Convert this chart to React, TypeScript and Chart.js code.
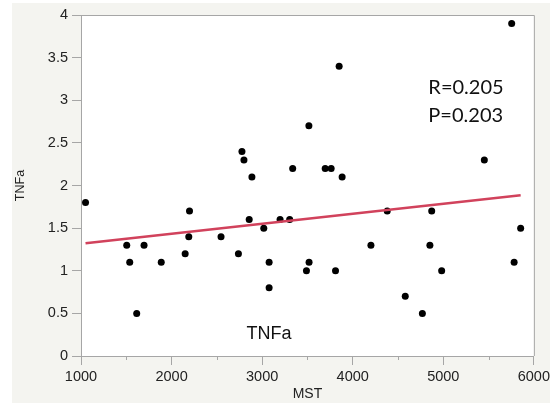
import React, { useEffect, useRef } from "react";
import { Chart, registerables } from "chart.js";

Chart.register(...registerables);

const mstValues = [
  1050, 1505, 1538, 1615, 1696, 1886, 2150, 2190, 2198, 2546,
  2738, 2777, 2799, 2857, 2887, 3018, 3077, 3077, 3198, 3304,
  3337, 3489, 3518, 3516, 3696, 3762, 3810, 3850, 3883, 4201,
  4381, 4580, 4769, 4852, 4872, 4982, 5453, 5755, 5782, 5854,
];
const tnfaValues = [
  1.8, 1.3, 1.1, 0.5, 1.3, 1.1, 1.2, 1.4, 1.7, 1.4,
  1.2, 2.4, 2.3, 1.6, 2.1, 1.5, 1.1, 0.8, 1.6, 1.6,
  2.2, 1.0, 1.1, 2.7, 2.2, 2.2, 1.0, 3.4, 2.1, 1.3,
  1.7, 0.7, 0.5, 1.3, 1.7, 1.0, 2.3, 3.9, 1.1, 1.5,
];
const fitX = [1050, 5854];
const fitY = [1.322, 1.885];
const minorXTicks = [1500, 2500, 3500, 4500, 5500];
const statLines = ["R=0.205", "P=0.203"];
const statX = 4835;
const statY = [3.07, 2.74];
const panelLabel = "TNFa";
const panelLabelX = 3077;
const panelLabelY = 0.196;

const FONT = "'Liberation Sans', Arial, Helvetica, sans-serif";
const AXIS_GRAY = "#a6a6a6";

export default function App() {
  const ref = useRef<HTMLCanvasElement | null>(null);

  useEffect(() => {
    if (!ref.current) return;
    const bgPlugin = {
      id: "bg",
      beforeDraw(chart: any) {
        const { ctx, chartArea } = chart;
        ctx.save();
        ctx.fillStyle = "#ffffff";
        ctx.fillRect(0, 0, chart.width, chart.height);
        ctx.fillStyle = "#f4f4f0";
        ctx.fillRect(12, 3, 538, chart.height - 3);
        ctx.fillStyle = "#ffffff";
        ctx.fillRect(chartArea.left, chartArea.top, chartArea.right - chartArea.left, chartArea.bottom - chartArea.top);
        ctx.restore();
      },
      beforeDatasetsDraw(chart: any) {
        const { ctx, chartArea } = chart;
        ctx.save();
        ctx.strokeStyle = AXIS_GRAY;
        ctx.lineWidth = 1;
        ctx.beginPath();
        ctx.moveTo(chartArea.left, chartArea.top + 0.5);
        ctx.lineTo(chartArea.right + 0.5, chartArea.top + 0.5);
        ctx.lineTo(chartArea.right + 0.5, chartArea.bottom);
        ctx.stroke();
        const xs = chart.scales.x;
        ctx.beginPath();
        for (const v of minorXTicks) {
          const px = Math.round(xs.getPixelForValue(v)) + 0.5;
          ctx.moveTo(px, chartArea.bottom);
          ctx.lineTo(px, chartArea.bottom + 4);
        }
        ctx.stroke();
        ctx.restore();
      },
      afterDatasetsDraw(chart: any) {
        const { ctx } = chart;
        const xs = chart.scales.x;
        const ys = chart.scales.y;
        ctx.save();
        ctx.fillStyle = "#111111";
        ctx.font = "20px Lato, 'Open Sans', sans-serif";
        ctx.textAlign = "left";
        ctx.textBaseline = "alphabetic";
        statLines.forEach((t, i) => {
          ctx.fillText(t, xs.getPixelForValue(statX), ys.getPixelForValue(statY[i]));
        });
        ctx.font = "18px " + FONT;
        ctx.textAlign = "center";
        ctx.fillText(panelLabel, xs.getPixelForValue(panelLabelX), ys.getPixelForValue(panelLabelY));
        ctx.restore();
      },
    };

    const chart = new Chart(ref.current, {
      type: "scatter",
      data: {
        datasets: [
          {
            type: "line",
            data: fitX.map((x, i) => ({ x, y: fitY[i] })),
            borderColor: "#d1425c",
            borderWidth: 2.5,
            pointRadius: 0,
            fill: false,
          } as any,
          {
            data: mstValues.map((x, i) => ({ x, y: tnfaValues[i] })),
            backgroundColor: "#000000",
            borderWidth: 0,
            pointRadius: 3.5,
          },
        ],
      },
      plugins: [bgPlugin],
      options: {
        responsive: false,
        animation: false,
        devicePixelRatio: 1,
        layout: { padding: { top: 15, right: 17, left: 0, bottom: 0 } },
        plugins: { legend: { display: false }, tooltip: { enabled: false } },
        scales: {
          x: {
            type: "linear",
            min: 1000,
            max: 6000,
            ticks: {
              stepSize: 1000,
              color: "#222222",
              font: { family: FONT, size: 14.5 },
              padding: 3,
              maxRotation: 0,
              callback: (v: any) => String(v),
            },
            grid: { drawOnChartArea: false, drawTicks: true, tickLength: 9, color: AXIS_GRAY },
            border: { color: AXIS_GRAY },
            title: { display: true, text: "MST", color: "#222222", font: { family: FONT, size: 14 }, padding: { top: 0, bottom: 0 } },
            afterFit(scale: any) { scale.height = 47; },
          },
          y: {
            min: 0,
            max: 4,
            ticks: {
              stepSize: 0.5,
              color: "#222222",
              font: { family: FONT, size: 14.5 },
              padding: 4,
              callback: (v: any) => String(Math.round(Number(v) * 10) / 10),
            },
            grid: { drawOnChartArea: false, drawTicks: true, tickLength: 9, color: AXIS_GRAY },
            border: { color: AXIS_GRAY },
            title: { display: true, text: "TNFa", color: "#222222", font: { family: FONT, size: 12.5 }, padding: { top: 13, bottom: 0 } },
            afterFit(scale: any) { scale.width = 81; },
          },
        },
      },
    });
    return () => chart.destroy();
  }, []);

  return (
    <canvas
      ref={ref}
      width={553}
      height={403}
      style={{ position: "fixed", left: 0, top: 0, width: 553, height: 403 }}
    />
  );
}
